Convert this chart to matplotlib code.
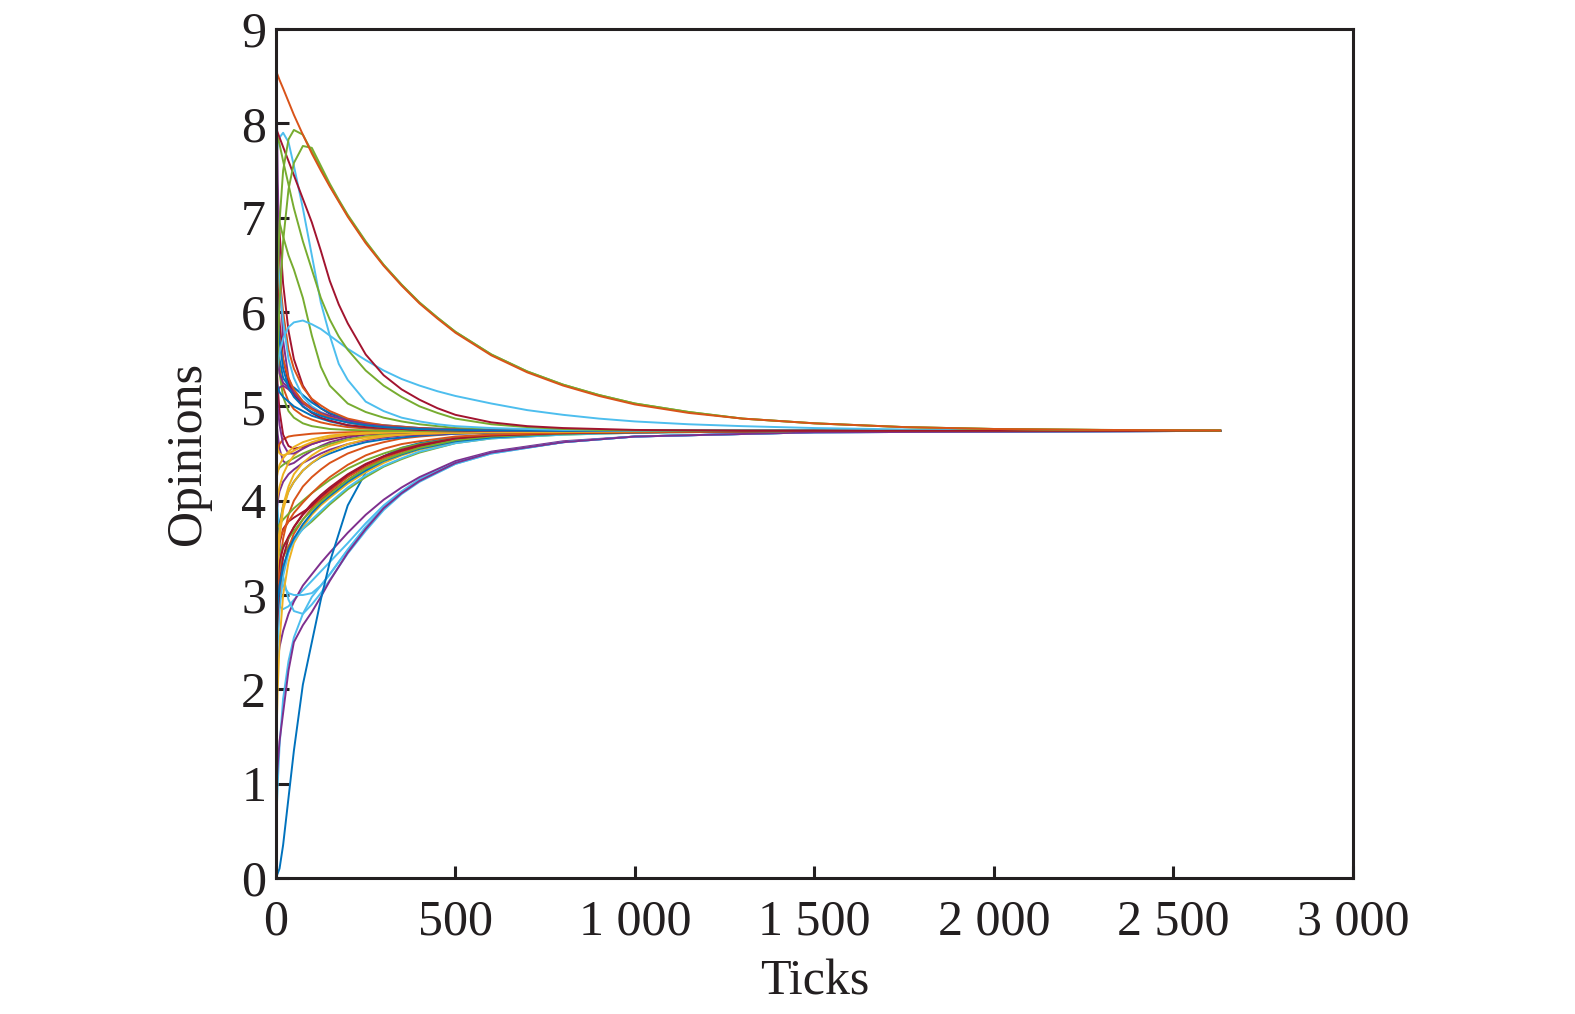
import matplotlib
matplotlib.use("Agg")
import matplotlib.pyplot as plt

# MATLAB default line colours
BLUE, ORANGE, YELLOW, PURPLE = "#0072BD", "#D95319", "#EDB120", "#7E2F8E"
GREEN, CYAN, DARKRED = "#77AC30", "#4DBEEE", "#A2142F"

# slow agents (the long tails above the consensus), sampled densely
slow_ticks = [0, 5, 10, 20, 35, 50, 75, 100, 125, 150, 175, 200, 250, 300, 350,
              400, 450, 500, 600, 700, 800, 900, 1000, 1150, 1300, 1500, 1750,
              2000, 2300, 2630]
slow_paths = [
    [8.56, 8.51, 8.46, 8.37, 8.23, 8.09, 7.88, 7.68, 7.50, 7.33, 7.17, 7.01, 6.73, 6.49, 6.28, 6.09, 5.93, 5.78, 5.54, 5.36, 5.22, 5.11, 5.02, 4.93, 4.87, 4.82, 4.78, 4.76, 4.75, 4.745],
    [5.60, 6.40, 6.95, 7.50, 7.83, 7.93, 7.88, 7.70, 7.52, 7.34, 7.18, 7.02, 6.74, 6.50, 6.29, 6.10, 5.94, 5.79, 5.55, 5.37, 5.23, 5.12, 5.03, 4.94, 4.87, 4.82, 4.78, 4.76, 4.75, 4.745],
    [5.00, 5.60, 6.10, 6.75, 7.30, 7.58, 7.76, 7.74, 7.55, 7.36, 7.19, 7.03, 6.75, 6.50, 6.29, 6.10, 5.94, 5.79, 5.55, 5.37, 5.23, 5.12, 5.03, 4.94, 4.87, 4.82, 4.78, 4.76, 4.75, 4.745],
    [7.95, 7.90, 7.85, 7.75, 7.60, 7.45, 7.20, 6.95, 6.65, 6.33, 6.08, 5.88, 5.55, 5.33, 5.18, 5.07, 4.98, 4.91, 4.83, 4.79, 4.77, 4.76, 4.75, 4.745, 4.74, 4.74, 4.74, 4.74, 4.74, 4.74],
    [7.90, 7.85, 7.78, 7.60, 7.35, 7.10, 6.75, 6.45, 6.15, 5.92, 5.74, 5.60, 5.38, 5.22, 5.10, 5.00, 4.93, 4.87, 4.81, 4.78, 4.76, 4.75, 4.745, 4.74, 4.74, 4.74, 4.74, 4.74, 4.74, 4.74],
    [5.30, 5.45, 5.57, 5.72, 5.84, 5.89, 5.91, 5.87, 5.82, 5.75, 5.68, 5.61, 5.49, 5.38, 5.29, 5.22, 5.16, 5.11, 5.03, 4.96, 4.91, 4.87, 4.84, 4.81, 4.79, 4.77, 4.755, 4.75, 4.745, 4.745],
    [7.60, 7.78, 7.85, 7.90, 7.80, 7.55, 7.10, 6.60, 6.10, 5.75, 5.45, 5.28, 5.05, 4.95, 4.88, 4.84, 4.81, 4.79, 4.77, 4.76, 4.75, 4.745, 4.74, 4.74, 4.74, 4.74, 4.74, 4.74, 4.74, 4.74],
]
slow_colors = [ORANGE, GREEN, GREEN, DARKRED, GREEN, CYAN, CYAN]

# fast agents (the bundle near the consensus)
fast_ticks = [0, 5, 10, 20, 35, 50, 75, 100, 125, 150, 200, 250, 300, 350, 400,
              500, 600, 800, 1000, 1500, 2630]
fast_paths = [
    [6.50, 6.00, 5.70, 5.40, 5.20, 5.10, 5.00, 4.94, 4.90, 4.87, 4.83, 4.80, 4.78, 4.77, 4.76, 4.75, 4.745, 4.74, 4.74, 4.74, 4.74],
    [6.20, 5.90, 5.70, 5.50, 5.30, 5.18, 5.05, 4.97, 4.92, 4.88, 4.83, 4.80, 4.78, 4.77, 4.76, 4.75, 4.745, 4.74, 4.74, 4.74, 4.74],
    [5.80, 5.50, 5.35, 5.25, 5.20, 5.15, 5.05, 4.98, 4.93, 4.90, 4.85, 4.81, 4.79, 4.775, 4.765, 4.75, 4.745, 4.74, 4.74, 4.74, 4.74],
    [6.80, 6.30, 5.90, 5.50, 5.25, 5.12, 5.00, 4.93, 4.88, 4.85, 4.80, 4.78, 4.77, 4.76, 4.75, 4.745, 4.74, 4.74, 4.74, 4.74, 4.74],
    [5.30, 5.20, 5.15, 5.10, 5.05, 5.00, 4.95, 4.90, 4.87, 4.84, 4.80, 4.78, 4.77, 4.76, 4.75, 4.745, 4.74, 4.74, 4.74, 4.74, 4.74],
    [6.90, 6.60, 6.30, 5.90, 5.50, 5.30, 5.10, 5.00, 4.94, 4.90, 4.84, 4.80, 4.78, 4.77, 4.76, 4.75, 4.745, 4.74, 4.74, 4.74, 4.74],
    [7.00, 6.70, 6.40, 6.00, 5.60, 5.40, 5.20, 5.08, 5.01, 4.95, 4.87, 4.83, 4.80, 4.785, 4.77, 4.755, 4.745, 4.74, 4.74, 4.74, 4.74],
    [5.00, 5.15, 5.20, 5.22, 5.18, 5.12, 5.03, 4.97, 4.92, 4.88, 4.83, 4.80, 4.78, 4.77, 4.76, 4.75, 4.745, 4.74, 4.74, 4.74, 4.74],
    [6.00, 5.60, 5.35, 5.10, 4.95, 4.88, 4.82, 4.79, 4.775, 4.76, 4.75, 4.745, 4.74, 4.74, 4.74, 4.74, 4.74, 4.74, 4.74, 4.74, 4.74],
    [9.00, 7.40, 6.50, 5.70, 5.30, 5.15, 5.05, 4.98, 4.93, 4.90, 4.85, 4.81, 4.79, 4.775, 4.765, 4.75, 4.745, 4.74, 4.74, 4.74, 4.74],
    [5.90, 5.60, 5.40, 5.20, 5.05, 4.97, 4.90, 4.86, 4.83, 4.81, 4.78, 4.765, 4.755, 4.75, 4.745, 4.74, 4.74, 4.74, 4.74, 4.74, 4.74],
    [6.00, 5.70, 5.50, 5.30, 5.22, 5.20, 5.12, 5.04, 4.98, 4.93, 4.86, 4.82, 4.80, 4.785, 4.77, 4.755, 4.745, 4.74, 4.74, 4.74, 4.74],
    [7.30, 7.10, 6.95, 6.80, 6.60, 6.45, 6.15, 5.75, 5.42, 5.22, 5.03, 4.94, 4.88, 4.84, 4.81, 4.77, 4.755, 4.745, 4.74, 4.74, 4.74],
    [7.60, 7.20, 6.85, 6.30, 5.80, 5.50, 5.22, 5.07, 4.98, 4.92, 4.85, 4.81, 4.79, 4.775, 4.765, 4.75, 4.745, 4.74, 4.74, 4.74, 4.74],
    [4.70, 4.55, 4.50, 4.48, 4.50, 4.53, 4.58, 4.62, 4.65, 4.67, 4.70, 4.71, 4.72, 4.725, 4.73, 4.735, 4.74, 4.74, 4.74, 4.74, 4.74],
    [4.20, 4.30, 4.38, 4.45, 4.52, 4.57, 4.62, 4.65, 4.67, 4.69, 4.71, 4.72, 4.725, 4.73, 4.73, 4.735, 4.74, 4.74, 4.74, 4.74, 4.74],
    [5.30, 5.00, 4.80, 4.60, 4.50, 4.50, 4.55, 4.60, 4.63, 4.66, 4.70, 4.715, 4.72, 4.725, 4.73, 4.735, 4.74, 4.74, 4.74, 4.74, 4.74],
    [5.60, 5.20, 4.95, 4.70, 4.58, 4.55, 4.57, 4.60, 4.63, 4.65, 4.69, 4.71, 4.72, 4.725, 4.73, 4.735, 4.74, 4.74, 4.74, 4.74, 4.74],
    [3.90, 4.05, 4.15, 4.28, 4.40, 4.48, 4.56, 4.61, 4.64, 4.67, 4.70, 4.715, 4.72, 4.725, 4.73, 4.735, 4.74, 4.74, 4.74, 4.74, 4.74],
    [4.50, 4.55, 4.60, 4.65, 4.68, 4.69, 4.70, 4.71, 4.715, 4.72, 4.725, 4.73, 4.735, 4.74, 4.74, 4.74, 4.74, 4.74, 4.74, 4.74, 4.74],
    [3.20, 3.50, 3.70, 3.95, 4.15, 4.28, 4.40, 4.48, 4.54, 4.58, 4.64, 4.67, 4.69, 4.70, 4.71, 4.72, 4.725, 4.73, 4.735, 4.74, 4.74],
    [4.30, 4.32, 4.35, 4.38, 4.42, 4.45, 4.50, 4.54, 4.57, 4.60, 4.65, 4.68, 4.70, 4.71, 4.715, 4.72, 4.73, 4.735, 4.74, 4.74, 4.74],
    [2.80, 3.30, 3.60, 3.90, 4.10, 4.20, 4.32, 4.40, 4.47, 4.52, 4.60, 4.65, 4.68, 4.70, 4.71, 4.72, 4.73, 4.735, 4.74, 4.74, 4.74],
    [4.90, 4.70, 4.55, 4.42, 4.38, 4.40, 4.47, 4.53, 4.58, 4.62, 4.67, 4.70, 4.71, 4.72, 4.725, 4.73, 4.735, 4.74, 4.74, 4.74, 4.74],
    [3.50, 3.55, 3.60, 3.68, 3.78, 3.87, 3.98, 4.08, 4.17, 4.25, 4.38, 4.48, 4.55, 4.60, 4.63, 4.68, 4.70, 4.72, 4.73, 4.74, 4.74],
    [3.00, 3.20, 3.35, 3.50, 3.62, 3.72, 3.85, 3.95, 4.04, 4.12, 4.27, 4.38, 4.47, 4.54, 4.59, 4.66, 4.69, 4.715, 4.725, 4.74, 4.74],
    [3.30, 3.40, 3.45, 3.52, 3.60, 3.68, 3.80, 3.90, 3.99, 4.07, 4.22, 4.34, 4.43, 4.50, 4.56, 4.64, 4.68, 4.71, 4.725, 4.74, 4.74],
    [2.60, 2.90, 3.10, 3.30, 3.48, 3.60, 3.75, 3.87, 3.97, 4.05, 4.20, 4.32, 4.42, 4.49, 4.55, 4.63, 4.67, 4.71, 4.725, 4.74, 4.74],
    [2.40, 2.80, 3.10, 3.40, 3.60, 3.72, 3.86, 3.97, 4.06, 4.14, 4.28, 4.39, 4.47, 4.53, 4.58, 4.65, 4.69, 4.715, 4.725, 4.74, 4.74],
    [2.00, 2.50, 2.85, 3.20, 3.45, 3.58, 3.70, 3.80, 3.89, 3.98, 4.14, 4.27, 4.37, 4.45, 4.52, 4.61, 4.66, 4.70, 4.72, 4.74, 4.74],
    [2.20, 2.60, 2.90, 3.25, 3.50, 3.65, 3.80, 3.92, 4.02, 4.10, 4.25, 4.36, 4.45, 4.52, 4.57, 4.64, 4.68, 4.71, 4.725, 4.74, 4.74],
    [3.70, 3.72, 3.75, 3.80, 3.86, 3.92, 4.00, 4.08, 4.15, 4.22, 4.34, 4.43, 4.50, 4.56, 4.60, 4.66, 4.69, 4.715, 4.725, 4.74, 4.74],
    [3.80, 4.00, 4.10, 4.20, 4.28, 4.33, 4.40, 4.45, 4.50, 4.54, 4.60, 4.64, 4.67, 4.69, 4.70, 4.715, 4.725, 4.73, 4.735, 4.74, 4.74],
    [1.30, 2.00, 2.50, 3.00, 3.35, 3.55, 3.72, 3.85, 3.95, 4.03, 4.18, 4.30, 4.40, 4.48, 4.54, 4.62, 4.67, 4.71, 4.725, 4.74, 4.74],
    [3.40, 3.60, 3.75, 3.95, 4.10, 4.20, 4.32, 4.40, 4.46, 4.50, 4.57, 4.62, 4.65, 4.67, 4.69, 4.71, 4.72, 4.73, 4.735, 4.74, 4.74],
    [2.50, 3.00, 3.30, 3.60, 3.85, 4.00, 4.15, 4.25, 4.33, 4.40, 4.50, 4.57, 4.62, 4.66, 4.68, 4.71, 4.72, 4.73, 4.735, 4.74, 4.74],
    [2.90, 3.10, 3.25, 3.40, 3.52, 3.60, 3.70, 3.78, 3.87, 3.96, 4.12, 4.25, 4.36, 4.44, 4.51, 4.61, 4.66, 4.70, 4.72, 4.74, 4.74],
    [2.70, 3.30, 3.55, 3.70, 3.78, 3.82, 3.88, 3.94, 4.01, 4.08, 4.22, 4.34, 4.43, 4.50, 4.56, 4.64, 4.68, 4.71, 4.725, 4.74, 4.74],
    [0.00, 0.05, 0.10, 0.35, 0.85, 1.35, 2.05, 2.50, 2.95, 3.35, 3.95, 4.30, 4.47, 4.56, 4.61, 4.67, 4.70, 4.72, 4.73, 4.74, 4.74],
    [0.90, 1.20, 1.45, 1.75, 2.20, 2.50, 2.68, 2.82, 2.98, 3.15, 3.45, 3.70, 3.92, 4.08, 4.21, 4.40, 4.51, 4.62, 4.68, 4.725, 4.74],
    [4.30, 3.90, 3.55, 3.20, 2.95, 2.83, 2.80, 2.90, 3.02, 3.16, 3.44, 3.68, 3.90, 4.07, 4.20, 4.39, 4.50, 4.62, 4.68, 4.725, 4.74],
    [3.60, 3.40, 3.25, 3.10, 3.02, 3.00, 3.00, 3.02, 3.10, 3.22, 3.48, 3.72, 3.93, 4.09, 4.22, 4.40, 4.51, 4.62, 4.68, 4.725, 4.74],
    [2.10, 2.30, 2.45, 2.62, 2.80, 2.93, 3.10, 3.22, 3.34, 3.45, 3.66, 3.85, 4.01, 4.14, 4.25, 4.42, 4.52, 4.63, 4.68, 4.725, 4.74],
    [0.50, 1.00, 1.40, 1.90, 2.30, 2.55, 2.80, 2.98, 3.10, 3.22, 3.48, 3.72, 3.92, 4.08, 4.21, 4.39, 4.50, 4.62, 4.68, 4.725, 4.74],
    [3.10, 2.95, 2.88, 2.85, 2.88, 2.95, 3.05, 3.15, 3.25, 3.35, 3.55, 3.76, 3.95, 4.10, 4.23, 4.41, 4.51, 4.62, 4.68, 4.725, 4.74],
]
fast_colors = [
    BLUE, ORANGE, PURPLE, DARKRED, BLUE, CYAN, ORANGE, PURPLE, GREEN, PURPLE,
    ORANGE, BLUE, GREEN, DARKRED,
    YELLOW, YELLOW, PURPLE, DARKRED, YELLOW, ORANGE, YELLOW, GREEN, YELLOW, PURPLE,
    ORANGE, DARKRED, GREEN, BLUE, DARKRED, CYAN, ORANGE, GREEN, PURPLE, YELLOW,
    BLUE, ORANGE, GREEN, DARKRED,
    BLUE, PURPLE, CYAN, CYAN, PURPLE, CYAN, CYAN,
]

xtick_vals = [0, 500, 1000, 1500, 2000, 2500, 3000]
xtick_labels = ["0", "500", "1 000", "1 500", "2 000", "2 500", "3 000"]
ytick_vals = list(range(10))

plt.rcParams["font.family"] = ["Liberation Serif", "DejaVu Serif"]

fig = plt.figure(figsize=(15.75, 10.14), dpi=100)
ax = fig.add_axes([0.1752, 0.1341, 0.6838, 0.8373])

for vals, c in zip(fast_paths[::-1], fast_colors[::-1]):
    ax.plot(fast_ticks, vals, color=c, lw=1.4)
for vals, c in zip(slow_paths[::-1], slow_colors[::-1]):
    ax.plot(slow_ticks, vals, color=c, lw=1.4)

ax.set_xlim(0, 3000)
ax.set_ylim(0, 9)
ax.set_xticks(xtick_vals)
ax.set_xticklabels(xtick_labels)
ax.set_yticks(ytick_vals)

for s in ax.spines.values():
    s.set_linewidth(2.2)
    s.set_color("#231f20")
ax.tick_params(direction="in", length=9, width=2.2, labelsize=36,
               color="#231f20", labelcolor="#231f20")
ax.tick_params(axis="x", pad=15)
ax.tick_params(axis="y", pad=7)

ax.set_xlabel("Ticks", fontsize=36, color="#231f20", labelpad=10)
ax.set_ylabel("Opinions", fontsize=36, color="#231f20", labelpad=22)

fig.savefig("out.png", dpi=100)
